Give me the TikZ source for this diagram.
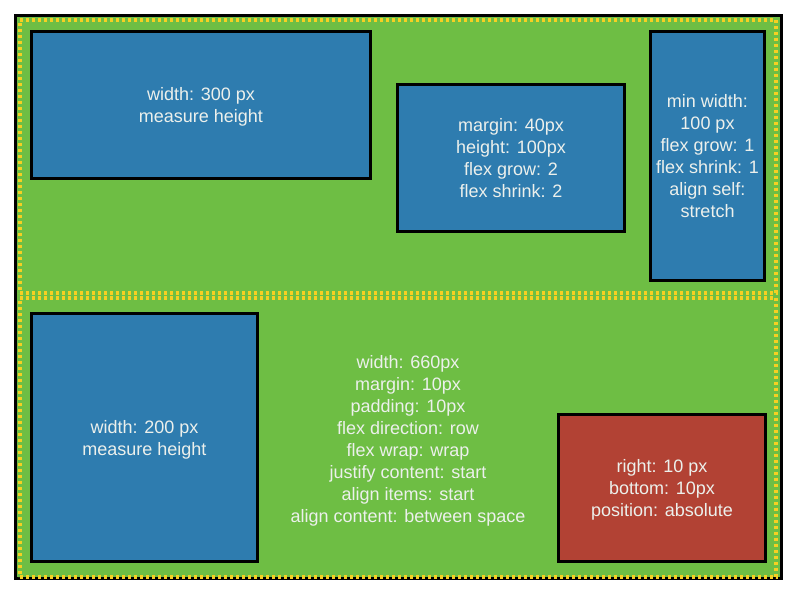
\documentclass[tikz,border=0pt]{standalone}
\usepackage{fontspec}
\setmainfont{Liberation Sans}
\usetikzlibrary{shadows}
\definecolor{leafgreen}{RGB}{110,190,68}
\definecolor{itemblue}{RGB}{46,124,175}
\definecolor{itemred}{RGB}{178,66,52}
\definecolor{dotyellow}{RGB}{246,208,34}
\definecolor{labelgrey}{RGB}{236,240,236}

\begin{document}
\begin{tikzpicture}[
	x = 1pt, y = -1pt,
	every node/.style = {font=\fontsize{18}{22}\selectfont, text=labelgrey, align=center, inner sep=0pt, text depth=-2pt},
	frame/.style = {draw=black, line width=3pt, fill=leafgreen, drop shadow={opacity=0.25, shadow xshift=1.5pt, shadow yshift=-1.5pt}},
	flexrow/.style = {draw=dotyellow, line width=3.5pt, dash pattern=on 3pt off 3pt},
	item/.style = {draw=black, line width=3pt, fill=itemblue, drop shadow={opacity=0.35, shadow xshift=1pt, shadow yshift=-1pt}},
	absitem/.style = {item, fill=itemred}
	]
	\fill[white] (0,0) rectangle (800,600);
	\useasboundingbox (0,0) rectangle (800,600);
	\node[frame, minimum width=766pt, minimum height=563pt] (container) at (398.5,297) {};
	\node[flexrow, minimum width=756pt, minimum height=273pt] (row1) at (398,156.5) {};
	\node[flexrow, minimum width=756pt, minimum height=279pt] (row2) at (398,437.5) {};
	\node[item, minimum width=339pt, minimum height=147pt] (w300) at (201,105) {width: 300 px\\measure height};
	\node[item, minimum width=227pt, minimum height=147pt] (m40) at (511,158) {margin: 40px\\height: 100px\\flex grow: 2\\flex shrink: 2};
	\node[item, minimum width=114pt, minimum height=249pt] (minw) at (707.5,156) {min width:\\100 px\\flex grow: 1\\flex shrink: 1\\align self:\\stretch};
	\node[item, minimum width=226pt, minimum height=248pt] (w200) at (144.5,437.5) {width: 200 px\\measure height};
	\node[absitem, minimum width=207pt, minimum height=147pt] (abs) at (662,488) {right: 10 px\\bottom: 10px\\position: absolute};
	\node (props) at (408,438.5) {width: 660px\\margin: 10px\\padding: 10px\\flex direction: row\\flex wrap: wrap\\justify content: start\\align items: start\\align content: between space};
\end{tikzpicture}
\end{document}
